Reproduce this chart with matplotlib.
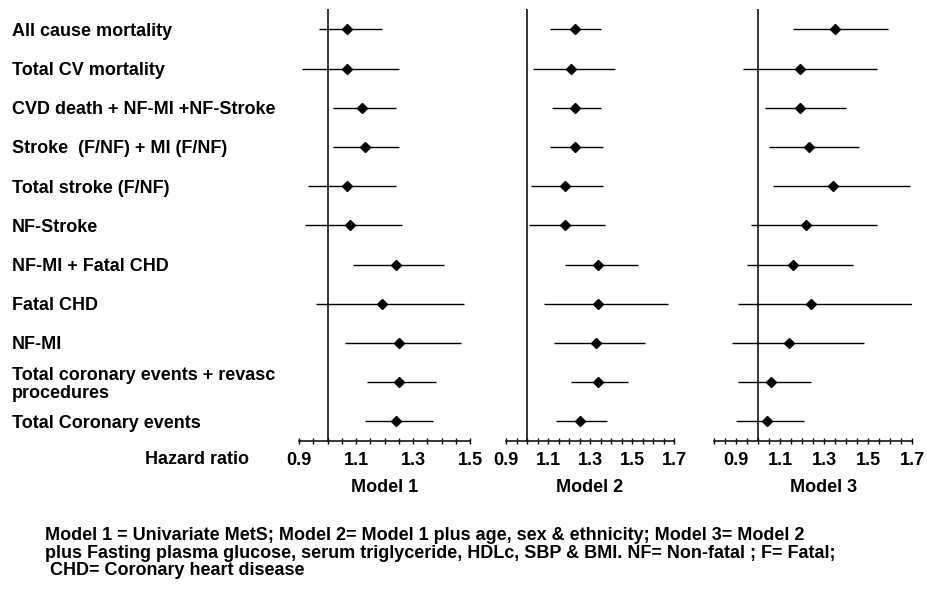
import matplotlib.pyplot as plt
import matplotlib.transforms as mtransforms
from matplotlib.ticker import MultipleLocator

plt.rcParams['font.family'] = ['Liberation Sans', 'DejaVu Sans']
plt.rcParams['font.weight'] = 'bold'

# outcomes, top to bottom
outcomes = ["All cause mortality", "Total CV mortality", "CVD death + NF-MI +NF-Stroke",
            "Stroke  (F/NF) + MI (F/NF)", "Total stroke (F/NF)", "NF-Stroke",
            "NF-MI + Fatal CHD", "Fatal CHD", "NF-MI",
            "Total coronary events + revasc\nprocedures", "Total Coronary events"]

# hazard ratios and 95% CI
m1_hr = [1.07, 1.07, 1.12, 1.13, 1.07, 1.08, 1.24, 1.19, 1.25, 1.25, 1.24]
m1_lo = [0.97, 0.91, 1.02, 1.02, 0.93, 0.92, 1.09, 0.96, 1.06, 1.14, 1.13]
m1_hi = [1.19, 1.25, 1.24, 1.25, 1.24, 1.26, 1.41, 1.48, 1.47, 1.38, 1.37]

m2_hr = [1.23, 1.21, 1.23, 1.23, 1.18, 1.18, 1.34, 1.34, 1.33, 1.34, 1.25]
m2_lo = [1.11, 1.03, 1.12, 1.11, 1.02, 1.01, 1.18, 1.08, 1.13, 1.21, 1.14]
m2_hi = [1.35, 1.42, 1.35, 1.36, 1.36, 1.37, 1.53, 1.67, 1.56, 1.48, 1.38]

m3_hr = [1.35, 1.19, 1.19, 1.23, 1.34, 1.22, 1.16, 1.24, 1.14, 1.06, 1.04]
m3_lo = [1.16, 0.93, 1.03, 1.05, 1.07, 0.97, 0.95, 0.91, 0.88, 0.91, 0.90]
m3_hi = [1.59, 1.54, 1.40, 1.46, 1.69, 1.54, 1.43, 1.71, 1.48, 1.24, 1.21]

models = ["Model 1", "Model 2", "Model 3"]
xlims = [(0.9, 1.5), (0.9, 1.7), (0.8, 1.7)]
label_centre = [1.2, 1.3, 1.3]

footnote = ("Model 1 = Univariate MetS; Model 2= Model 1 plus age, sex & ethnicity; Model 3= Model 2\n"
            "plus Fasting plasma glucose, serum triglyceride, HDLc, SBP & BMI. NF= Non-fatal ; F= Fatal;\n"
            " CHD= Coronary heart disease")

W, H = 927, 592
fig = plt.figure(figsize=(9.27, 5.92), dpi=100)

# panel boxes in pixels: left, right
boxes = [(299, 470), (506, 674), (714, 912)]
top, bottom = 9, 441

data = [(m1_hr, m1_lo, m1_hi), (m2_hr, m2_lo, m2_hi), (m3_hr, m3_lo, m3_hi)]
rows = list(range(len(outcomes)))
axes = []
for i, (l, r) in enumerate(boxes):
    ax = fig.add_axes([l / W, 1 - bottom / H, (r - l) / W, (bottom - top) / H])
    hr, lo, hi = data[i]
    ax.hlines(rows, lo, hi, color='black', lw=1.0)
    ax.plot(hr, rows, 'D', color='black', ms=5)
    ax.axvline(1.0, color='black', lw=1.1)
    ax.set_xlim(*xlims[i])
    ax.set_ylim(len(outcomes) - 0.5, -0.52)
    ax.set_xticks([0.9 + 0.2 * k for k in range(int(round((xlims[i][1] - 0.9) / 0.2)) + 1)])
    ax.xaxis.set_minor_locator(MultipleLocator(0.05))
    ax.set_xticklabels(['%.1f' % t for t in ax.get_xticks()])
    ax.tick_params(axis='x', which='both', direction='inout', length=4, width=1, pad=6, labelsize=13)
    ax.set_yticks([])
    for s in ['top', 'right', 'left']:
        ax.spines[s].set_visible(False)
    ax.spines['bottom'].set_linewidth(1.1)
    trans = mtransforms.blended_transform_factory(ax.transData, fig.transFigure)
    ax.text(label_centre[i], 1 - 487.5 / H, models[i], transform=trans,
            ha='center', va='center', fontsize=13)
    axes.append(ax)

trans = mtransforms.blended_transform_factory(fig.transFigure, axes[0].transData)
for k, name in enumerate(outcomes):
    fig.text(12 / W, k + 0.05, name, transform=trans, ha='left', va='center',
             fontsize=13, linespacing=1.07)

fig.text(197 / W, 1 - 459 / H, "Hazard ratio", ha='center', va='center', fontsize=13)
fig.text(45 / W, 1 - 553 / H, footnote, ha='left', va='center', fontsize=13, linespacing=1.07)

fig.savefig('out.png', dpi=100)
